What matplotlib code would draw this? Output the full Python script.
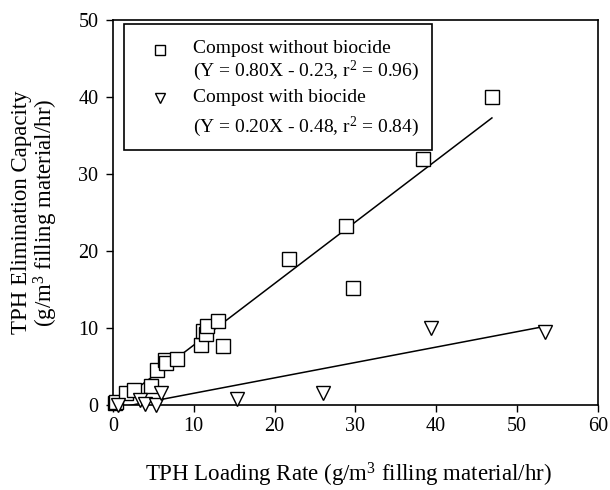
import matplotlib
matplotlib.use("Agg")
import matplotlib.pyplot as plt
from matplotlib.patches import Rectangle
import numpy as np

plt.rcParams['font.family'] = ['Liberation Serif', 'DejaVu Serif']
plt.rcParams['mathtext.fontset'] = 'custom'
plt.rcParams['mathtext.rm'] = 'Liberation Serif'
plt.rcParams['mathtext.it'] = 'Liberation Serif:italic'

# Compost without biocide
x_nob = [0.3, 0.45, 1.6, 2.6, 4.7, 5.5, 6.4, 6.6, 7.9, 10.9, 11.2, 11.5, 11.6, 13.0, 13.65, 21.8, 28.9, 29.7, 38.4, 46.9]
y_nob = [0.2, 0.4, 1.5, 1.9, 2.5, 4.6, 5.8, 5.5, 6.0, 7.75, 9.6, 9.2, 10.2, 10.9, 7.6, 18.9, 23.3, 15.2, 31.9, 40.0]
# Compost with biocide
x_wb = [0.66, 3.3, 4.0, 5.4, 5.9, 15.3, 26.0, 39.4, 53.5]
y_wb = [0.0, 0.65, 0.1, 0.0, 1.5, 0.8, 1.6, 10.0, 9.5]

fit_nob = (0.80, -0.23)
fit_wb = (0.20, -0.48)

xticks = [0, 10, 20, 30, 40, 50, 60]
yticks = [0, 10, 20, 30, 40, 50]

legend_labels = ['Compost without biocide',
                 '(Y = 0.80X - 0.23, r$^2$ = 0.96)',
                 'Compost with biocide',
                 '(Y = 0.20X - 0.48, r$^2$ = 0.84)']

fig = plt.figure(figsize=(6.1, 4.9), dpi=100)
ax = fig.add_axes([0.185, 0.1735, 0.795, 0.7855])

ax.plot(x_nob, y_nob, linestyle='none', marker='s', markersize=9.5,
        markerfacecolor='white', markeredgecolor='black', markeredgewidth=1.0,
        zorder=3, clip_on=False)
ax.plot(x_wb, y_wb, linestyle='none', marker='v', markersize=10,
        markerfacecolor='white', markeredgecolor='black', markeredgewidth=1.0,
        zorder=3, clip_on=False)

xs = np.array([min(x_nob), max(x_nob)])
ax.plot(xs, fit_nob[0] * xs + fit_nob[1], color='black', linewidth=1.1, zorder=2)
xs2 = np.array([min(x_wb), max(x_wb)])
ax.plot(xs2, fit_wb[0] * xs2 + fit_wb[1], color='black', linewidth=1.1, zorder=2)

ax.set_xlim(0, 60)
ax.set_ylim(0, 50)
ax.set_xticks(xticks)
ax.set_yticks(yticks)
ax.tick_params(axis='both', direction='out', length=5, width=1, labelsize=14.5,
               top=False, right=False)
ax.tick_params(axis='x', pad=4)
ax.tick_params(axis='y', pad=5.5)
for s in ax.spines.values():
    s.set_linewidth(1.2)

ax.set_xlabel('TPH Loading Rate (g/m$^3$ filling material/hr)', fontsize=16.5)
ax.xaxis.set_label_coords(0.485, -0.182)
ax.xaxis.label.set_va('center')
ax.set_ylabel('TPH Elimination Capacity\n(g/m$^3$ filling material/hr)', fontsize=16.5,
              linespacing=1.0)
ax.yaxis.set_label_coords(-0.159, 0.5)
ax.yaxis.label.set_va('center')

# Legend box drawn manually (axes coordinates)
T = ax.transAxes
ax.add_patch(Rectangle((0.023, 0.662), 0.635, 0.328, transform=T, fill=True,
                       facecolor='white', edgecolor='black', linewidth=1.2, zorder=4))
ax.plot([0.097], [0.921], transform=T, marker='s', markersize=6.5, linestyle='none',
        markerfacecolor='white', markeredgecolor='black', markeredgewidth=1.0,
        zorder=5, clip_on=False)
ax.plot([0.097], [0.797], transform=T, marker='v', markersize=7, linestyle='none',
        markerfacecolor='white', markeredgecolor='black', markeredgewidth=1.0,
        zorder=5, clip_on=False)
ypos = [0.925, 0.868, 0.800, 0.722]
for lbl, yy in zip(legend_labels, ypos):
    ax.text(0.165, yy, lbl, transform=T, fontsize=14, va='center', ha='left', zorder=5)

fig.savefig('out.png', dpi=100)
